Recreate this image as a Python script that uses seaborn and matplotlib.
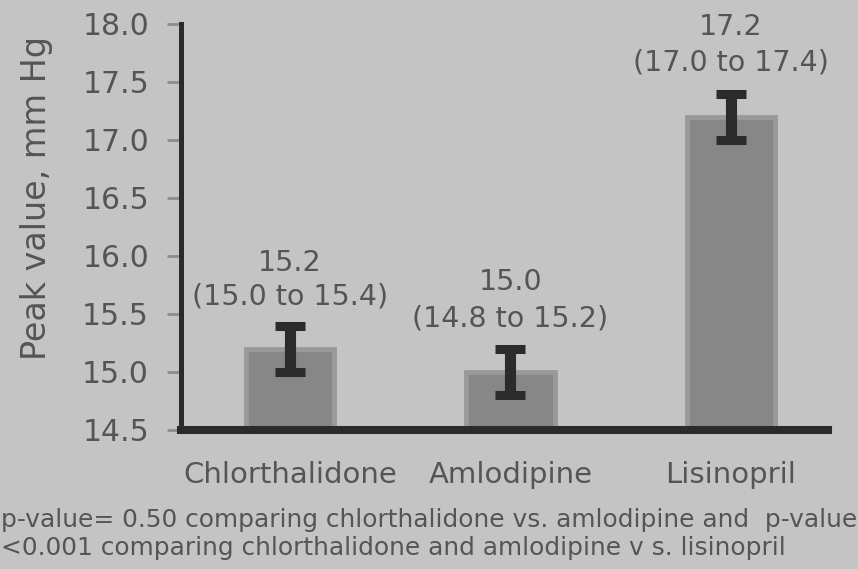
import matplotlib
matplotlib.use("Agg")
import matplotlib.pyplot as plt
import seaborn as sns
import pandas as pd

categories = ["Chlorthalidone", "Amlodipine", "Lisinopril"]
peak = [15.2, 15.0, 17.2]
ci_low = [15.0, 14.8, 17.0]
ci_high = [15.4, 15.2, 17.4]
yticks = [14.5, 15.0, 15.5, 16.0, 16.5, 17.0, 17.5, 18.0]
footnote = ["p-value= 0.50 comparing chlorthalidone vs. amlodipine and  p-value",
            "<0.001 comparing chlorthalidone and amlodipine v s. lisinopril"]

sns.set_style("white")
plt.rcParams['font.family'] = ['DejaVu Sans']

BG = "#c4c4c4"
TXT = "#555555"
DARK = "#2b2b2b"

fig = plt.figure(figsize=(8.58, 5.69), dpi=100, facecolor=BG)
ax = fig.add_axes([181/858, 1-430/569, (828-181)/858, (430-24)/569])
ax.set_facecolor(BG)

df = pd.DataFrame({"cat": categories, "val": peak})
sns.barplot(data=df, x="cat", y="val", color="#878787", width=0.40,
            errorbar=None, ax=ax, saturation=1,
            edgecolor="#9a9a9a", linewidth=3.5)

xs = list(range(len(categories)))
yerr = [[p - l for p, l in zip(peak, ci_low)], [h - p for p, h in zip(peak, ci_high)]]
ax.errorbar(xs, peak, yerr=yerr, fmt="none", ecolor=DARK, elinewidth=8,
            capsize=10.5, capthick=6.5, zorder=5)

ax.set_ylim(14.5, 18.0)
ax.set_xlim(-0.494, 2.44)
ax.set_yticks(yticks)
ax.set_yticklabels([f"{t:.1f}" for t in yticks], color=TXT, fontsize=21.5)
ax.tick_params(axis="y", length=10, width=2, color="#8c8c8c", pad=13, left=True)
ax.tick_params(axis="x", length=0, pad=22, labelsize=21, labelcolor=TXT)
ax.set_xlabel("")
ax.set_ylabel("Peak value, mm Hg", fontsize=24, color=TXT)
ax.yaxis.set_label_coords(-0.198, 0.572)

for s in ["top", "right"]:
    ax.spines[s].set_visible(False)
ax.spines["left"].set_color(DARK)
ax.spines["left"].set_linewidth(3.6)
ax.spines["bottom"].set_color(DARK)
ax.spines["bottom"].set_linewidth(5.8)
ax.spines["bottom"].set_capstyle("projecting")

# value labels above bars (baseline positions in data units)
label_pos = [(15.87, 15.58), (15.71, 15.39), (17.905, 17.60)]
for i, (p, l, h) in enumerate(zip(peak, ci_low, ci_high)):
    y1, y2 = label_pos[i]
    ax.text(i, y1, f"{p:.1f}", ha="center", va="baseline", fontsize=20.5, color=TXT)
    ax.text(i, y2, f"({l:.1f} to {h:.1f})", ha="center", va="baseline", fontsize=20.5, color=TXT)

# footnote, sized to fit the figure width
fig.canvas.draw()
renderer = fig.canvas.get_renderer()
t1 = fig.text(1/858, 1-520/569, footnote[0], ha="left", va="center", fontsize=17, color=TXT)
w = t1.get_window_extent(renderer).width
fs = 17 * 855 / w
t1.set_fontsize(fs)
fig.text(1/858, 1-548/569, footnote[1], ha="left", va="center", fontsize=fs, color=TXT)

fig.savefig("out.png", dpi=100, facecolor=BG)
